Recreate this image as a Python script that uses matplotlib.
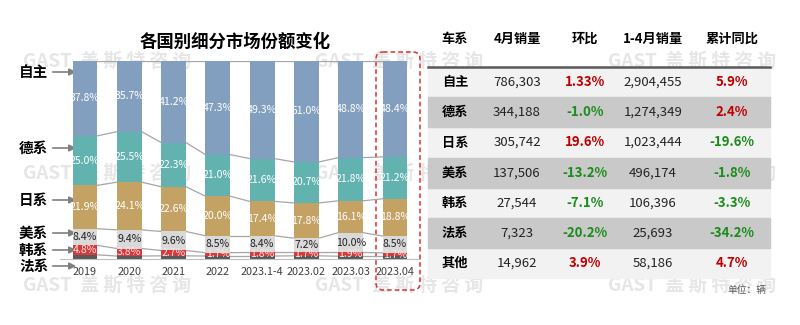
import matplotlib
matplotlib.use('Agg')
import matplotlib.pyplot as plt
from matplotlib.patches import Rectangle, FancyBboxPatch
import numpy as np

plt.rcParams['font.family'] = ['Noto Sans CJK SC', 'DejaVu Sans']

# bar chart data (share %, bottom -> top order is reversed when stacking)
years = ['2019', '2020', '2021', '2022', '2023.1-4', '2023.02', '2023.03', '2023.04']
zizhu = [37.8, 35.7, 41.2, 47.3, 49.3, 51.0, 48.8, 48.4]
dexi = [25.0, 25.5, 22.3, 21.0, 21.6, 20.7, 21.8, 21.2]
rixi = [21.9, 24.1, 22.6, 20.0, 17.4, 17.8, 16.1, 18.8]
meixi = [8.4, 9.4, 9.6, 8.5, 8.4, 7.2, 10.0, 8.5]
hanxi = [4.8, 3.8, 2.7, 1.7, 1.8, 1.7, 1.9, 1.7]
faxi = [2.1, 1.5, 1.6, 1.5, 1.5, 1.6, 1.4, 1.4]

series_names = ['自主', '德系', '日系', '美系', '韩系', '法系']
series_vals = [zizhu, dexi, rixi, meixi, hanxi, faxi]
colors = ['#839FC0', '#62B3AF', '#C3A263', '#D9D9D9', '#D63A3A', '#595959']
label_colors = ['white', 'white', 'white', '#222222', '#FBE3E3', None]

# table data
tbl_header = ['车系', '4月销量', '环比', '1-4月销量', '累计同比']
tbl_names = ['自主', '德系', '日系', '美系', '韩系', '法系', '其他']
tbl_apr = ['786,303', '344,188', '305,742', '137,506', '27,544', '7,323', '14,962']
tbl_mom = ['1.33%', '-1.0%', '19.6%', '-13.2%', '-7.1%', '-20.2%', '3.9%']
tbl_ytd = ['2,904,455', '1,274,349', '1,023,444', '496,174', '106,396', '25,693', '58,186']
tbl_yoy = ['5.9%', '2.4%', '-19.6%', '-1.8%', '-3.3%', '-34.2%', '4.7%']

W, H = 800, 325
fig = plt.figure(figsize=(8, 3.25), dpi=100)

# overlay axes in pixel coordinates
ov = fig.add_axes([0, 0, 1, 1])
ov.set_xlim(0, W)
ov.set_ylim(H, 0)
ov.axis('off')

# watermarks
for wx in [23, 315, 608]:
    for wy in [61, 173, 285]:
        ov.text(wx, wy, 'GAST  盖 斯 特 咨 询', fontsize=13.5, color='#E6E6E6',
                fontweight='bold', va='center', ha='left', zorder=0)

# bar axes
ax = fig.add_axes([60 / W, 1 - 259 / H, 360 / W, 198 / H])
ax.set_xlim(-0.565, 7.565)
ax.set_ylim(0, 100)
ax.patch.set_alpha(0)
for s in ['top', 'right', 'left']:
    ax.spines[s].set_visible(False)
ax.spines['bottom'].set_color('#BFBFBF')
ax.set_yticks([])
x = np.arange(len(years))
ax.set_xticks(x)
ax.set_xticklabels(years, fontsize=7.8, color='#404040')
ax.tick_params(axis='x', length=0, pad=6)

w = 0.56
stack = list(zip(series_names, series_vals, colors, label_colors))[::-1]
bottom = np.zeros(len(years))
tops = []
for name, vals, c, lc in stack:
    v = np.array(vals)
    ax.bar(x, v, w, bottom=bottom, color=c, zorder=2)
    if lc is not None:
        for i in range(len(years)):
            ax.text(x[i], bottom[i] + v[i] / 2, '%.1f%%' % v[i], ha='center',
                    va='center', fontsize=7.6, color=lc, zorder=3)
    bottom = bottom + v
    tops.append(bottom.copy())

# connecting lines between bars
for t in tops:
    for i in range(len(years) - 1):
        ax.plot([x[i] + w / 2, x[i + 1] - w / 2], [t[i], t[i + 1]],
                color='#A6A6A6', lw=0.9, zorder=1)

# left labels with arrows
left_lbls = [('自主', 72), ('德系', 148), ('日系', 200), ('美系', 233), ('韩系', 250), ('法系', 266)]
for name, yy in left_lbls:
    ov.text(19, yy, name, fontsize=10.5, fontweight='bold', va='center', ha='left', color='black')
    ov.annotate('', xy=(79, yy), xytext=(50, yy),
                arrowprops=dict(arrowstyle='-|>', color='#7F7F7F', lw=1.2, mutation_scale=10))

# title
ov.text(235, 42, '各国别细分市场份额变化', fontsize=12.5, fontweight='bold',
        ha='center', va='center', color='black')

# dashed highlight box
box = FancyBboxPatch((376, 52), 44, 238, boxstyle='round,pad=0,rounding_size=7',
                     fill=False, ec='#E03030', ls=(0, (3, 2)), lw=1.1, zorder=5)
ov.add_patch(box)

# table
col_x = [455, 517, 585, 653, 732]
row_h = 30.2
tbl_top = 67
ov.add_patch(Rectangle((428, tbl_top), 342, row_h * 7, color='#F2F2F2', zorder=1))
for r in range(7):
    y0 = tbl_top + r * row_h
    if r % 2 == 1:
        ov.add_patch(Rectangle((428, y0), 342, row_h, color='#C9C9C9', zorder=1))
ov.plot([428, 770], [tbl_top, tbl_top], color='#595959', lw=1.8, zorder=2)
for j, h in enumerate(tbl_header):
    ov.text(col_x[j], 39, h, fontsize=9.5, fontweight='bold', ha='center', va='center')


def pct_color(s):
    return '#1A8C1A' if s.startswith('-') else '#C00000'


for r in range(7):
    yc = tbl_top + r * row_h + row_h / 2
    ov.text(col_x[0], yc, tbl_names[r], fontsize=9.5, fontweight='bold', ha='center', va='center', zorder=3)
    ov.text(col_x[1], yc, tbl_apr[r], fontsize=9.5, ha='center', va='center', color='#222222', zorder=3)
    ov.text(col_x[2], yc, tbl_mom[r], fontsize=9.5, fontweight='bold', ha='center', va='center',
            color=pct_color(tbl_mom[r]), zorder=3)
    ov.text(col_x[3], yc, tbl_ytd[r], fontsize=9.5, ha='center', va='center', color='#222222', zorder=3)
    ov.text(col_x[4], yc, tbl_yoy[r], fontsize=9.5, fontweight='bold', ha='center', va='center',
            color=pct_color(tbl_yoy[r]), zorder=3)

ov.text(766, 290, '单位：辆', fontsize=7, ha='right', va='center', color='#595959')

fig.savefig('out.png', dpi=100)
